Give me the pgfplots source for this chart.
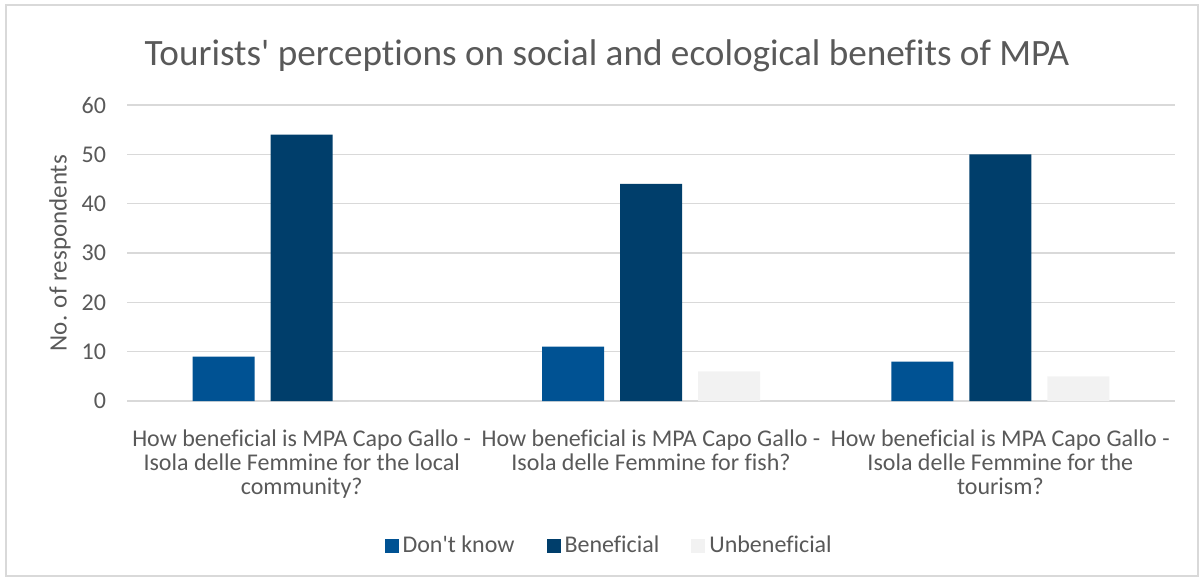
\documentclass[border=0pt]{standalone}
\usepackage{pgfplots}
\pgfplotsset{compat=1.18}
\usepackage{fontspec}
\setmainfont{Carlito}[Ligatures={TeXOff,NoCommon}]
\definecolor{dk}{RGB}{0,82,147}
\definecolor{bn}{RGB}{0,62,107}
\definecolor{ub}{RGB}{242,242,242}
\definecolor{tx}{RGB}{89,89,89}
\definecolor{gr}{RGB}{217,217,217}
\begin{document}
\begin{tikzpicture}
\useasboundingbox (0pt,0pt) rectangle (601.5pt,-289.5pt);
\draw[gr, line width=0.6pt] (3pt,-2.5pt) rectangle (599pt,-288pt);
\node[text=tx, font=\fontsize{18.6}{22}\selectfont] at (303.5pt,-28pt) {Tourists' perceptions on social and ecological benefits of MPA};
\begin{axis}[
  at={(63.5pt,-200.5pt)}, anchor=south west,
  scale only axis, width=524pt, height=148pt,
  ybar, bar width=31pt,
  xmin=-0.5, xmax=2.5, ymin=0, ymax=60,
  ytick={0,10,...,60},
  xtick={0,1,2},
  xticklabels={{How beneficial is MPA Capo Gallo -\\Isola delle Femmine for the local\\community?},
               {How beneficial is MPA Capo Gallo -\\Isola delle Femmine for fish?},
               {How beneficial is MPA Capo Gallo -\\Isola delle Femmine for the\\tourism?}},
  xticklabel style={align=center, font=\fontsize{12}{12}\selectfont, text=tx, anchor=north, yshift=-11pt},
  yticklabel style={font=\fontsize{12}{12}\selectfont, text=tx, xshift=-7pt},
  /pgf/number format/assume math mode=true,
  major tick length=0pt,
  axis x line*=bottom, axis y line*=left,
  x axis line style={gr, line width=0.8pt},
  y axis line style={draw=none},
  ymajorgrids, grid style={gr, line width=0.6pt},
  ylabel={No. of respondents},
  every axis y label/.style={at={(axis description cs:0,0.5)}, xshift=-33.5pt, rotate=90, anchor=center,
    font=\fontsize{12.5}{14}\selectfont, text=tx},
  legend columns=3,
  legend style={at={(0.461,-0.49)}, anchor=center, draw=none, font=\fontsize{12}{12}\selectfont, text=tx,
    /tikz/every even column/.append style={column sep=14pt}},
  legend image code/.code={\fill[#1] (0pt,-3.5pt) rectangle (7pt,3.5pt);},
]
\addplot[fill=dk, draw=none, bar shift=-39pt] coordinates {(0,9) (1,11) (2,8)};
\addplot[fill=bn, draw=none, bar shift=0pt] coordinates {(0,54) (1,44) (2,50)};
\addplot[fill=ub, draw=none, bar shift=39pt] coordinates {(0,0) (1,6) (2,5)};
\legend{Don't know, Beneficial, Unbeneficial}
\end{axis}
\end{tikzpicture}
\end{document}
